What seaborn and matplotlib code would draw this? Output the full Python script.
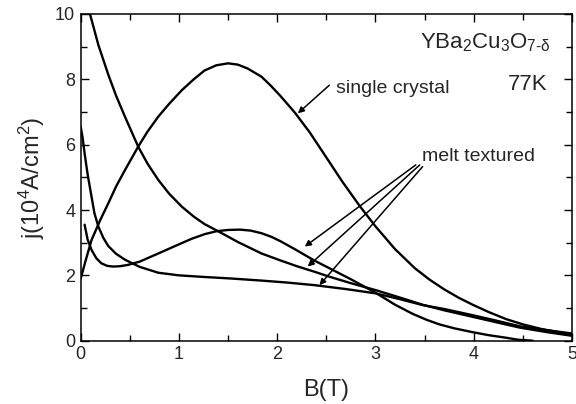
import numpy as np
import pandas as pd
import matplotlib
matplotlib.use("Agg")
import matplotlib.pyplot as plt
from matplotlib.ticker import MultipleLocator
import seaborn as sns

# --- data ---
sc_B = [0.0, 0.05, 0.11, 0.2, 0.28, 0.36, 0.45, 0.585, 0.68, 0.79, 0.9, 1.03, 1.15, 1.26, 1.38, 1.5,
        1.6, 1.7, 1.84, 1.93, 2.03, 2.18, 2.33, 2.48, 2.66, 2.84, 3.0, 3.2, 3.4, 3.55, 3.7, 3.85,
        3.99, 4.15, 4.33, 4.5, 4.7, 5.0]
sc_j = [1.9, 2.45, 3.08, 3.7, 4.2, 4.72, 5.22, 5.94, 6.4, 6.86, 7.25, 7.67, 8.0, 8.27, 8.43, 8.49,
        8.45, 8.33, 8.08, 7.82, 7.5, 6.98, 6.38, 5.7, 4.88, 4.12, 3.5, 2.8, 2.22, 1.87, 1.57, 1.31,
        1.1, 0.88, 0.66, 0.5, 0.35, 0.19]

mt1_B = [0.04, 0.07, 0.11, 0.16, 0.21, 0.27, 0.33, 0.4, 0.48, 0.6, 0.79, 1.0, 1.13, 1.26, 1.38, 1.5,
         1.62, 1.73, 1.84, 1.94, 2.03, 2.18, 2.38, 2.53, 2.75, 3.0, 3.2, 3.38, 3.52, 3.65, 3.8,
         3.99, 4.15, 4.33, 4.45, 4.6]
mt1_j = [3.55, 3.1, 2.78, 2.52, 2.37, 2.29, 2.27, 2.28, 2.32, 2.42, 2.67, 2.95, 3.12, 3.26, 3.35, 3.39,
         3.4, 3.37, 3.29, 3.18, 3.05, 2.8, 2.45, 2.22, 1.88, 1.47, 1.1, 0.82, 0.64, 0.5, 0.38,
         0.26, 0.17, 0.09, 0.03, 0.0]

mt2_B = [0.09, 0.18, 0.28, 0.36, 0.45, 0.585, 0.68, 0.79, 0.9, 1.03, 1.15, 1.26, 1.43, 1.6, 1.84,
         2.03, 2.2, 2.38, 2.53, 2.75, 3.0, 3.25, 3.48, 3.7, 3.99, 4.25, 4.47, 4.75, 5.0]
mt2_j = [10.05, 9.05, 8.15, 7.5, 6.86, 5.94, 5.42, 4.92, 4.5, 4.1, 3.8, 3.57, 3.3, 3.02, 2.67,
         2.46, 2.28, 2.11, 1.96, 1.76, 1.55, 1.32, 1.1, 0.93, 0.73, 0.55, 0.4, 0.26, 0.15]

mt3_B = [0.0, 0.02, 0.04, 0.07, 0.11, 0.14, 0.18, 0.23, 0.28, 0.36, 0.45, 0.6, 0.79, 1.0, 1.26, 1.55,
         1.84, 2.1, 2.38, 2.7, 3.0, 3.25, 3.48, 3.7, 3.99, 4.25, 4.47, 4.75, 5.0]
mt3_j = [6.55, 6.2, 5.73, 5.1, 4.41, 3.9, 3.49, 3.15, 2.9, 2.66, 2.48, 2.26, 2.08, 2.0, 1.95, 1.9,
         1.84, 1.78, 1.7, 1.58, 1.45, 1.27, 1.09, 0.97, 0.78, 0.6, 0.44, 0.32, 0.22]

x_ticks = [0, 1, 2, 3, 4, 5]
y_ticks = [0, 2, 4, 6, 8, 10]

sns.set_theme(style="ticks")
plt.rcParams["font.family"] = ["Liberation Sans", "DejaVu Sans"]
plt.rcParams["mathtext.fontset"] = "custom"
plt.rcParams["mathtext.rm"] = "Liberation Sans"
plt.rcParams["mathtext.it"] = "Liberation Sans:italic"
plt.rcParams["mathtext.default"] = "regular"

df = pd.concat([
    pd.DataFrame({"B": sc_B, "j": sc_j, "curve": "single crystal"}),
    pd.DataFrame({"B": mt1_B, "j": mt1_j, "curve": "mt1"}),
    pd.DataFrame({"B": mt2_B, "j": mt2_j, "curve": "mt2"}),
    pd.DataFrame({"B": mt3_B, "j": mt3_j, "curve": "mt3"}),
], ignore_index=True)

fig = plt.figure(figsize=(5.76, 4.04), dpi=100)
ax = fig.add_axes([80.7 / 576, 63.3 / 404, 491.3 / 576, 326.7 / 404])

sns.lineplot(data=df, x="B", y="j", hue="curve", units="curve", estimator=None,
             palette=["black"] * 4, linewidth=1.7, legend=False, ax=ax)
for ln in ax.lines:
    ln.set_solid_joinstyle("round")
    ln.set_solid_capstyle("round")

ax.set_xlim(0, 5)
ax.set_ylim(0, 10)
ax.set_xticks(x_ticks)
ax.set_yticks(y_ticks)
ax.xaxis.set_minor_locator(MultipleLocator(0.5))
ax.yaxis.set_minor_locator(MultipleLocator(1))
ax.tick_params(which="both", direction="in", top=True, right=True, width=1.0, color="black")
ax.tick_params(which="major", length=6, labelsize=13, pad=4)
ax.tick_params(which="minor", length=4)
for s in ax.spines.values():
    s.set_linewidth(1.1)
    s.set_color("black")
    s.set_visible(True)

ax.set_xlabel("B(T)", fontsize=17, labelpad=11)
ax.set_ylabel("j(10$^4$A/cm$^2$)", fontsize=17, labelpad=6)

ax.text(3.45, 8.95, "YBa$_2$Cu$_3$O$_{\\text{7-δ}}$", fontsize=16, ha="left", va="baseline")
ax.text(4.35, 7.67, "77K", fontsize=16, ha="left", va="baseline")
ax.text(2.60, 7.59, "single crystal", fontsize=14, ha="left", va="baseline")
ax.text(3.47, 5.51, "melt textured", fontsize=14, ha="left", va="baseline")

arrow = dict(arrowstyle="-|>", lw=1.1, color="black", mutation_scale=9, shrinkA=0, shrinkB=0)
ax.annotate("", xy=(2.21, 6.96), xytext=(2.53, 7.82), arrowprops=arrow)
ax.annotate("", xy=(2.28, 2.88), xytext=(3.41, 5.38), arrowprops=arrow)
ax.annotate("", xy=(2.31, 2.27), xytext=(3.45, 5.38), arrowprops=arrow)
ax.annotate("", xy=(2.43, 1.70), xytext=(3.48, 5.33), arrowprops=arrow)

fig.savefig("out.png", dpi=100)
